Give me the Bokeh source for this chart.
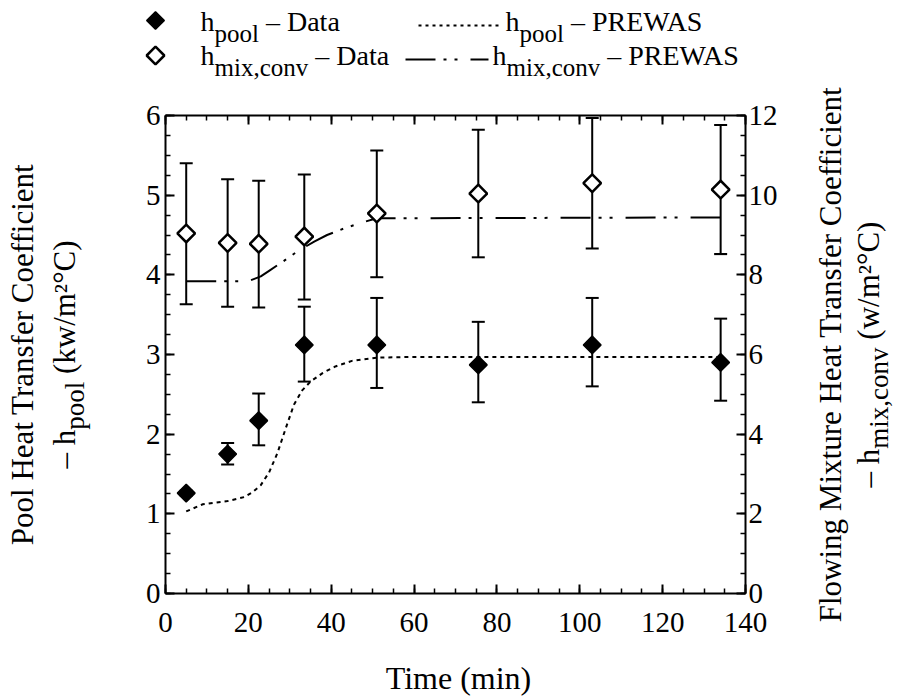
import math
from bokeh.plotting import figure
from bokeh.models import (Range1d, LinearAxis, SingleIntervalTicker, Whisker, TeeHead,
                          ColumnDataSource, CustomJSTickFormatter)
from bokeh.core.properties import value
from bokeh.embed import file_html
from bokeh.resources import INLINE

# ---------------- data ----------------
time_data = [5, 15, 22.5, 33.5, 51, 75.5, 103, 134]
pool_data = [1.26, 1.75, 2.17, 3.12, 3.12, 2.87, 3.12, 2.90]
pool_hi = [1.29, 1.89, 2.51, 3.60, 3.71, 3.41, 3.71, 3.45]
pool_lo = [1.23, 1.62, 1.86, 2.66, 2.58, 2.40, 2.60, 2.42]
mix_data = [9.04, 8.80, 8.78, 8.96, 9.54, 10.04, 10.30, 10.14]
mix_hi = [10.80, 10.40, 10.36, 10.52, 11.12, 11.64, 11.94, 11.76]
mix_lo = [7.26, 7.20, 7.18, 7.38, 7.94, 8.44, 8.66, 8.52]

pool_model_t = [5, 9, 15, 19, 21, 23, 25, 27, 29, 31, 33, 35, 38, 41, 45, 51, 60, 134]
pool_model = [1.03, 1.12, 1.16, 1.21, 1.27, 1.36, 1.52, 1.76, 2.07, 2.37, 2.55, 2.66,
              2.77, 2.85, 2.92, 2.96, 2.97, 2.97]
mix_model_t = [5, 20, 23, 25, 29, 32, 36, 39, 43, 47, 51, 134]
mix_model = [7.84, 7.84, 7.96, 8.10, 8.38, 8.60, 8.84, 9.00, 9.16, 9.30, 9.42, 9.44]

x_max = 140
y_left_max = 6
y_right_max = 12

FONT = "Liberation Serif"
NB = "\u00a0"  # non-breaking space (leading plain spaces are dropped in SVG text)
CW, CH = 901, 698
# plot box in page pixels
BL, BR, BT, BB = 165, 745, 115, 593

# ranges chosen so that the plot box [0,x_max]x[0,y_max] falls on the box above,
# while the frame covers the whole canvas (so texts outside the box are not clipped)
sx = x_max / (BR - BL)
sy = y_left_max / (BB - BT)
xa, xb = -BL * sx, x_max + (CW - BR) * sx
ya, yb = -(CH - BB) * sy, y_left_max + BT * sy
rr = y_right_max / y_left_max


def X(cx):
    return xa + cx * sx


def Y(cy):
    return ya + (CH - cy) * sy


# Times metrics (per 1000 em) for composing subscripted texts
W = {' ': 250, NB: 250, '(': 333, ')': 333, ',': 250, '/': 278, '–': 500, '°': 400,
     '²': 300, 'A': 722, 'C': 667, 'D': 722, 'E': 611, 'F': 556, 'H': 722, 'M': 889,
     'P': 556, 'R': 667, 'S': 556, 'T': 611, 'W': 944, 'a': 444, 'c': 444, 'e': 444,
     'f': 333, 'g': 500, 'h': 500, 'i': 278, 'k': 500, 'l': 278, 'm': 778, 'n': 500,
     'o': 500, 'p': 500, 'r': 333, 's': 389, 't': 278, 'u': 500, 'v': 500, 'w': 722,
     'x': 500}


def tw(s, size):
    return sum(W.get(c, 500) for c in s) / 1000.0 * size


p = figure(width=CW, height=CH, x_range=Range1d(xa, xb), y_range=Range1d(ya, yb),
           output_backend="svg", toolbar_location=None, min_border=0,
           x_axis_type=None, y_axis_type=None)
p.extra_y_ranges = {"r": Range1d(ya * rr, yb * rr)}
p.outline_line_color = None
p.grid.visible = False
p.background_fill_color = "white"
p.border_fill_color = "white"


def style(ax, standoff):
    ax.axis_line_width = 2
    ax.axis_line_color = "black"
    ax.major_tick_in = 9
    ax.major_tick_out = 0
    ax.minor_tick_in = 5
    ax.minor_tick_out = 0
    ax.major_tick_line_width = 2
    ax.minor_tick_line_width = 1.5
    ax.major_label_text_font = FONT
    ax.major_label_text_font_size = "29px"
    ax.major_label_text_color = "black"
    ax.major_label_standoff = standoff


bottom = LinearAxis(fixed_location=0, bounds=(0, x_max),
                    ticker=SingleIntervalTicker(interval=20, num_minor_ticks=4))
style(bottom, 19)
p.add_layout(bottom, "below")
top = LinearAxis(fixed_location=y_left_max, bounds=(0, x_max),
                 ticker=SingleIntervalTicker(interval=20, num_minor_ticks=4),
                 formatter=CustomJSTickFormatter(code="return ''"))
style(top, 0)
p.add_layout(top, "above")
left = LinearAxis(fixed_location=0, bounds=(0, y_left_max),
                  ticker=SingleIntervalTicker(interval=1, num_minor_ticks=4))
style(left, 5)
p.add_layout(left, "left")
right = LinearAxis(fixed_location=x_max, y_range_name="r", bounds=(0, y_right_max),
                   ticker=SingleIntervalTicker(interval=2, num_minor_ticks=4))
style(right, 3)
p.add_layout(right, "right")

# model curves
p.line(pool_model_t, pool_model, line_color="black", line_width=2, line_dash="4 4")
p.line(mix_model_t, mix_model, y_range_name="r", line_color="black", line_width=2,
       line_dash="30 8 3 8 3 13")

src_pool = ColumnDataSource(dict(t=time_data, y=pool_data, hi=pool_hi, lo=pool_lo))
src_mix = ColumnDataSource(dict(t=time_data, y=mix_data, hi=mix_hi, lo=mix_lo))

MS = 12.5  # rotated-square marker size
p.scatter("t", "y", source=src_pool, marker="square", angle=math.pi / 4, size=MS,
          fill_color="black", line_color="black", line_width=1.5)
p.scatter("t", "y", source=src_mix, y_range_name="r", marker="square", angle=math.pi / 4,
          size=MS, fill_color="white", line_color="black", line_width=2.5)

for src, rn in ((src_pool, "default"), (src_mix, "r")):
    w = Whisker(source=src, base="t", upper="hi", lower="lo", dimension="height",
                line_color="black", line_width=2, y_range_name=rn,
                upper_head=TeeHead(size=13, line_width=2, line_color="black"),
                lower_head=TeeHead(size=13, line_width=2, line_color="black"))
    p.add_layout(w)


# ---------------- texts (page-pixel layout converted to the frame's coordinates) ----------------
# the rendered alphabetic baseline sits a bit below the anchor; compensate
H_SHIFT = 0.32   # fraction of size, horizontal texts
V_SHIFT = 13     # px, rotated texts


def txt(cx, cy, t, size, angle=0.0, align="left"):
    if angle == 0.0:
        cy = cy - H_SHIFT * size
    else:
        cx = cx - V_SHIFT
    p.text([X(cx)], [Y(cy)], text=[t], text_font=value(FONT),
           text_font_size=value(f"{size}px"), angle=angle, text_align=align,
           text_baseline="alphabetic", text_color="black")


def rich_h(cx, cy, segs):
    for t, s, o in segs:
        txt(cx, cy + o, t, s)
        cx += tw(t, s)


def rich_v(cx, cy_center, segs):
    total = sum(tw(t, s) for t, s, o in segs)
    cy = cy_center + total / 2
    for t, s, o in segs:
        txt(cx + o, cy, t, s, angle=math.pi / 2)
        cy -= tw(t, s)


# legend
LM, LS, LO = 28, 25, 11
p.scatter([X(155)], [Y(20)], marker="square", angle=math.pi / 4, size=MS,
          fill_color="black", line_color="black", line_width=1.5)
p.scatter([X(155)], [Y(55)], marker="square", angle=math.pi / 4, size=MS,
          fill_color="white", line_color="black", line_width=2.5)
p.line([X(418), X(500)], [Y(25), Y(25)], line_color="black", line_width=2, line_dash="3 4")
p.line([X(405), X(488)], [Y(59), Y(59)], line_color="black", line_width=2,
       line_dash="30 8 3 8 3 13")
rich_h(200, 30, [("h", LM, 0), ("pool", LS, LO), (NB + "– Data", LM, 0)])
rich_h(505, 30, [("h", LM, 0), ("pool", LS, LO), (NB + "– PREWAS", LM, 0)])
rich_h(200, 64, [("h", LM, 0), ("mix,conv", LS, LO), (NB + "– Data", LM, 0)])
rich_h(492, 64, [("h", LM, 0), ("mix,conv", LS, LO), (NB + "– PREWAS", LM, 0)])

# axis titles
T1, T2 = 31, 27
mid_y = (BT + BB) / 2
txt(35, mid_y, "Pool Heat Transfer Coefficient", T1, angle=math.pi / 2, align="center")
rich_v(77, mid_y, [("– h", T1, 0), ("pool", T2, 10), (NB + "(kw/m²°C)", T1, 0)])
txt(843, mid_y, "Flowing Mixture Heat Transfer Coefficient", T1, angle=math.pi / 2,
    align="center")
rich_v(881, mid_y, [("– h", T1, 0), ("mix,conv", T2, 10), (NB + "(w/m²°C)", T1, 0)])
txt((BL + BR) / 2 + 3, 688, "Time (min)", 32, align="center")

open("out.html", "w").write(file_html(p, INLINE))
